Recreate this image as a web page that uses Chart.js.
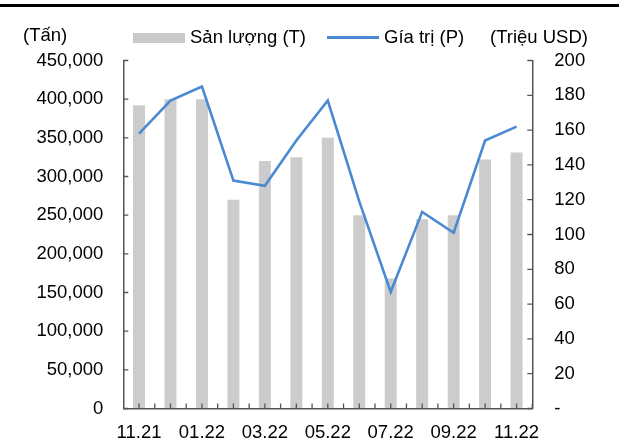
<!DOCTYPE html>
<html lang="vi">
<head>
    <meta charset="UTF-8">
    <title>Sản lượng và Giá trị</title>
    <script src="https://cdn.jsdelivr.net/npm/chart.js"></script>
    <style>
        body { margin: 0; background: #fff; }
        #wrap { position: relative; width: 619px; height: 448px; font-family: "Liberation Sans", Arial, sans-serif; color: #000; }
        #topline { position: absolute; left: 0; top: 4px; width: 619px; height: 3px; background: #000; }
        .lbl { position: absolute; font-size: 18.5px; line-height: 20px; white-space: nowrap; }
        .box { position: absolute; }
    </style>
</head>
<body>
<div id="wrap">
    <div id="topline"></div>
    <!-- axis units and legend -->
    <div class="lbl" style="left:23px; top:25px;">(Tấn)</div>
    <div class="box" style="left:133px; top:33px; width:52px; height:10px; background:#c9c9c9;"></div>
    <div class="lbl" style="left:190px; top:27px;">Sản lượng (T)</div>
    <div class="box" style="left:327px; top:36px; width:52px; height:3px; background:#4a8ad2;"></div>
    <div class="lbl" style="left:384px; top:27px;">Gía trị (P)</div>
    <div class="lbl" style="left:490px; top:27px;">(Triệu USD)</div>
    <canvas id="chart"></canvas>
</div>

<script>
    // months, volume (tonnes) and value (million USD)
    const months = ['11.21', '12.21', '01.22', '02.22', '03.22', '04.22', '05.22', '06.22', '07.22', '08.22', '09.22', '10.22', '11.22'];
    const volume = [392000, 400000, 400000, 270000, 320000, 325000, 350000, 250000, 168000, 245000, 250000, 322000, 331000];
    const value = [158, 177, 185, 131, 128, 154, 177, 119, 67, 113, 101, 154, 162];

    const axisColor = '#555555';

    // Excel style tick marks pointing into the plot
    const innerTicks = {
        id: 'innerTicks',
        afterDatasetsDraw(chart) {
            const ctx = chart.ctx;
            const x = chart.scales.x, yl = chart.scales.y, yr = chart.scales.y1;
            const len = 5;
            ctx.save();
            ctx.strokeStyle = axisColor;
            ctx.lineWidth = 1.3;
            ctx.beginPath();
            const half = (x.getPixelForValue(1) - x.getPixelForValue(0)) / 2;
            for (let i = 0; i < months.length; i++) {
                const c = x.getPixelForValue(i);
                [c, c + half].forEach(px => {
                    ctx.moveTo(px, x.top);
                    ctx.lineTo(px, x.top - len);
                });
            }
            yl.ticks.forEach(t => {
                const py = yl.getPixelForValue(t.value);
                ctx.moveTo(yl.right, py);
                ctx.lineTo(yl.right + len, py);
            });
            yr.ticks.forEach(t => {
                const py = yr.getPixelForValue(t.value);
                ctx.moveTo(yr.left, py);
                ctx.lineTo(yr.left - len, py);
            });
            ctx.stroke();
            ctx.restore();
        }
    };

    const font = { family: '"Liberation Sans", Arial, sans-serif', size: 18.5 };

    new Chart(document.getElementById('chart'), {
        data: {
            labels: months,
            datasets: [
                {
                    type: 'line',
                    label: 'Gía trị (P)',
                    data: value,
                    yAxisID: 'y1',
                    borderColor: '#4a8ad2',
                    borderWidth: 2.6,
                    pointRadius: 0,
                    tension: 0,
                    order: 0
                },
                {
                    type: 'bar',
                    label: 'Sản lượng (T)',
                    data: volume,
                    yAxisID: 'y',
                    backgroundColor: '#cccccc',
                    barPercentage: 0.38,
                    categoryPercentage: 1,
                    order: 1
                }
            ]
        },
        options: {
            responsive: true,
            maintainAspectRatio: false,
            animation: false,
            layout: { padding: { top: 60.5, left: 0, right: 0, bottom: 0 } },
            plugins: {
                legend: { display: false },
                tooltip: { enabled: false }
            },
            scales: {
                x: {
                    offset: true,
                    grid: { display: true, drawOnChartArea: false, drawTicks: false },
                    border: { display: true, color: axisColor, width: 1.5 },
                    ticks: {
                        color: '#000',
                        font: font,
                        padding: 13,
                        autoSkip: false,
                        maxRotation: 0,
                        callback: (v, i) => (i % 2 === 0 ? months[i] : '')
                    },
                    afterFit: s => { s.height = 39.5; }
                },
                y: {
                    position: 'left',
                    min: 0,
                    max: 450000,
                    grid: { display: true, drawOnChartArea: false, drawTicks: false },
                    border: { display: true, color: axisColor, width: 1.5 },
                    ticks: {
                        stepSize: 50000,
                        color: '#000',
                        font: font,
                        padding: 20,
                        callback: v => v.toLocaleString('en-US')
                    },
                    afterFit: s => { s.width = 123.3; }
                },
                y1: {
                    position: 'right',
                    min: 0,
                    max: 200,
                    grid: { display: true, drawOnChartArea: false, drawTicks: false },
                    border: { display: true, color: axisColor, width: 1.5 },
                    ticks: {
                        stepSize: 20,
                        color: '#000',
                        font: font,
                        padding: 22,
                        callback: v => (v === 0 ? '-' : v)
                    },
                    afterFit: s => { s.width = 86.7; }
                }
            }
        },
        plugins: [innerTicks]
    });
</script>
</body>
</html>
